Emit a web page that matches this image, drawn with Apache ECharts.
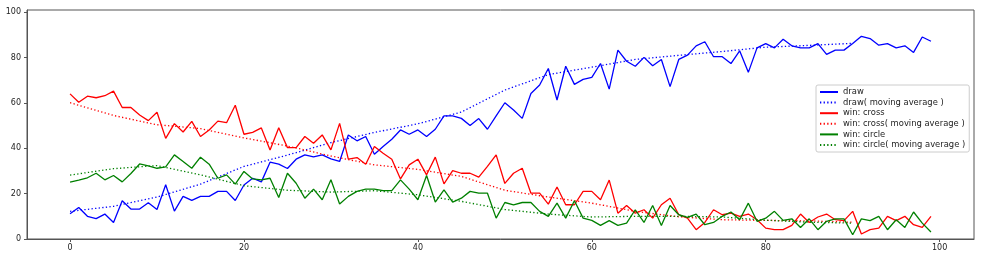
<!DOCTYPE html>
<html>
<head>
<meta charset="utf-8">
<script src="https://cdn.jsdelivr.net/npm/echarts@6/dist/echarts.min.js"></script>
<style>
html,body{margin:0;padding:0;background:#fff;}
#c{width:988px;height:264px;}
</style>
</head>
<body>
<div id="c"></div>
<script>
const draw = [11.1,13.9,10,9,11,7.3,16.9,13.2,13.2,16, 13,23.9,12.3,18.8,17,18.8,18.8,21,21,17,
  23.8,26.8,25.2,33.9,33,31.1,35.2,37.1,36.2,37.1, 35.3,34.2,45.9,43.3,45.2,37.4,40.8,44,48.1,46.2,
  48.1,45.2,48.4,54.3,54.3,53.2,50.1,53.1,48.4,54.3, 60.1,56.9,53.2,64.2,67.9,75.2,61.3,76.2,68.2,70.4,
  71.3,77.4,66.1,83.3,78.4,76.2,80.1,76.4,79.2,67.2, 79.2,81.1,85.2,87,80.4,80.4,77.4,83,73.5,84.3,
  86.2,84.3,88.1,85.2,84.3,84.3,86.2,81.4,83.3,83.3, 86.2,89.4,88.4,85.5,86.2,84.3,85.2,82.3,89.1,87.2];
const cross = [64,60.3,63,62.3,63.2,65.2,58,58,54.7,52.2, 55.9,44.4,50.9,47.2,51.9,45.2,48.1,52,51.3,59,
  46.2,47,49,39.3,49.1,40.3,40.3,45.2,42.2,45.9, 39.3,51,35.2,35.9,33,40.8,37.8,35.2,26.5,32.7,
  35.2,28.3,36.1,24.3,30.2,29,29,27.3,32,37.1, 24.5,29,31.2,20.2,20.2,15.4,22.9,15.1,15.1,21,
  21,17.3,26,11.4,14.8,11.4,12.9,9.2,15.1,18, 10.7,9.2,4.1,7.3,12.9,10.7,11.4,10,11,8.5,
  4.8,4.1,4.1,6,11,7.3,9.7,11,8.5,8.1, 12.2,2.2,4.1,4.8,10,8.1,10,6.3,5.1,10];
const circle = [25.1,26,27,29,26.1,28,25.2,28.9,33.1,32.3, 31.2,31.8,37.1,34.2,31.2,36.1,33,26.8,28.3,24.2,
  29.8,26.5,26.1,26.8,18.3,29,24.6,18,22,17.3, 26.1,15.4,18.8,21,22,22,21.3,21.3,26.1,22,
  17.3,28,16.3,21.7,16.3,18,21,20.2,20.2,9.2, 16.1,15.1,16.1,16.1,12.2,10,15.8,9.2,16.9,9.2,
  8.2,6,8.1,6,7,12.9,7.3,14.8,6,14.8, 10.7,9.5,11,6.3,7.3,10,11.9,8.5,15.8,7.8,
  9.2,12.2,8.2,8.9,5.1,8.9,4.1,7.8,8.9,8.9, 1.9,8.9,8.1,10,4.1,8.5,5.1,11.9,7,3.1];

const maX = [0,5,10,15,20,25,30,35,40,45,50,55,60,65,70,75,80,85,90];
const drawMA = [12.2,14.4,18.5,24.2,32,37,42.5,47,50.8,56,65.7,72.5,75.8,79.2,81,82.7,84.6,85.4,86.3];
const crossMA = [60.1,54.5,50.4,48.7,44.6,41,36.6,32.7,30.7,27.6,21.5,18.5,15.8,12.2,9.8,8.5,8.2,8,7.4];
const circleMA = [28.2,31,32.4,28.3,23.5,21.5,20.7,21.3,19.5,16.6,13,11,9.7,10,10,9.7,8.3,7.4,7];

const xTicks = [0,20,40,60,80,100];
const yTicks = [0,20,40,60,80,100];

const FONT = 'DejaVu Sans';
const frame = '#555';
const pairs = arr => arr.map((v,i)=>[i,v]);
const maPairs = arr => arr.map((v,i)=>[maX[i],v]);

const chart = echarts.init(document.getElementById('c'), null, {renderer:'canvas'});
function solid(name, color, arr){
  return {name, type:'line', data:pairs(arr), symbol:'none', smooth:false,
    lineStyle:{color, width:1.3}, itemStyle:{color}};
}
function dotted(name, color, arr){
  return {name, type:'line', data:maPairs(arr), symbol:'none', smooth:false,
    lineStyle:{color, width:1.3, type:[1.3,2.3]}, itemStyle:{color}};
}
chart.setOption({
  animation:false,
  backgroundColor:'#fff',
  grid:{left:27, right:14, top:10, bottom:25, show:true, borderColor:frame, borderWidth:1, containLabel:false},
  xAxis:{type:'value', min:-4.95, max:103.95,
    axisLine:{show:true, onZero:false, lineStyle:{color:frame}},
    axisTick:{show:true, length:3, customValues:xTicks, lineStyle:{color:frame}},
    axisLabel:{customValues:xTicks, fontFamily:FONT, fontSize:8, color:'#222', margin:5},
    splitLine:{show:false}},
  yAxis:{type:'value', min:0, max:101,
    axisLine:{show:true, onZero:false, lineStyle:{color:frame}},
    axisTick:{show:true, length:3, customValues:yTicks, lineStyle:{color:frame}},
    axisLabel:{customValues:yTicks, fontFamily:FONT, fontSize:8, color:'#222', margin:6},
    splitLine:{show:false}},
  legend:{orient:'vertical', left:816, top:85, itemWidth:18, itemHeight:10, itemGap:2.6,
    padding:[3,4,3,3], backgroundColor:'rgba(255,255,255,0.85)', borderColor:'#ccc', borderWidth:1, borderRadius:2,
    itemStyle:{opacity:0},
    textStyle:{fontFamily:FONT, fontSize:8.4, color:'#222'},
    data:['draw','draw( moving average )','win: cross','win: cross( moving average )','win: circle','win: circle( moving average )']},
  series:[
    solid('draw','#0000ff',draw),
    dotted('draw( moving average )','#0000ff',drawMA),
    solid('win: cross','#ff0000',cross),
    dotted('win: cross( moving average )','#ff0000',crossMA),
    solid('win: circle','#008000',circle),
    dotted('win: circle( moving average )','#008000',circleMA)
  ]
});
</script>
</body>
</html>
